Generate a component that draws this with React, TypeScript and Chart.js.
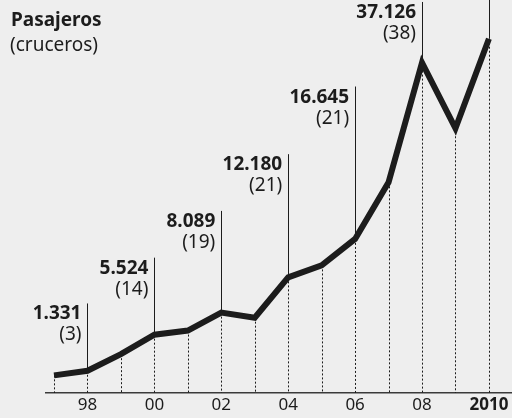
import React, { useEffect, useRef } from 'react';
import { Chart, registerables } from 'chart.js';

Chart.register(...registerables);

// ---- Data ----
const years = [1997, 1998, 1999, 2000, 2001, 2002, 2003, 2004, 2005, 2006, 2007, 2008, 2009, 2010];
const passengers = [800, 1331, 3260, 5524, 6000, 8089, 7500, 12180, 13570, 16645, 23220, 37126, 29500, 39900];

const tickYears = [1998, 2000, 2002, 2004, 2006, 2008, 2010];
const tickLabels = ['98', '00', '02', '04', '06', '08', '2010'];

const calloutYears = [1998, 2000, 2002, 2004, 2006, 2008, 2010];
const calloutValues = ['1.331', '5.524', '8.089', '12.180', '16.645', '37.126', ''];
const calloutShips = ['(3)', '(14)', '(19)', '(21)', '(21)', '(38)', ''];
// top of each leader line, in passenger units on the y scale
const calloutTops = [9150, 14470, 19900, 26490, 34350, 44170, 46000];

const titleText = 'Pasajeros';
const subtitleText = '(cruceros)';

const FONT = '"Noto Sans", "DejaVu Sans", sans-serif';
const INK = '#1c1c1c';

const calloutPlugin = {
  id: 'callouts',
  beforeDraw(chart: any) {
    const { ctx, width, height } = chart;
    ctx.save();
    ctx.fillStyle = '#eeeeee';
    ctx.fillRect(0, 0, width, height);
    ctx.restore();
  },
  beforeDatasetsDraw(chart: any) {
    const { ctx, chartArea, scales } = chart;
    const x = scales.x;
    const y = scales.y;
    ctx.save();
    // dashed drop lines
    ctx.strokeStyle = INK;
    ctx.lineWidth = 1;
    ctx.setLineDash([2, 2]);
    ctx.beginPath();
    years.forEach((yr, i) => {
      const px = Math.round(x.getPixelForValue(yr)) + 0.5;
      const py = y.getPixelForValue(passengers[i]);
      ctx.moveTo(px, py);
      ctx.lineTo(px, chartArea.bottom);
    });
    ctx.stroke();
    // solid leaders
    ctx.setLineDash([]);
    ctx.beginPath();
    calloutYears.forEach((yr, k) => {
      const i = years.indexOf(yr);
      const px = Math.round(x.getPixelForValue(yr)) + 0.5;
      const py = y.getPixelForValue(passengers[i]);
      const top = Math.max(y.getPixelForValue(calloutTops[k]), 0);
      ctx.moveTo(px, top);
      ctx.lineTo(px, py);
    });
    ctx.stroke();
    // callout texts
    ctx.fillStyle = INK;
    ctx.textAlign = 'right';
    ctx.textBaseline = 'alphabetic';
    calloutYears.forEach((yr, k) => {
      const px = x.getPixelForValue(yr);
      const top = y.getPixelForValue(calloutTops[k]);
      ctx.font = `bold 19px ${FONT}`;
      if (calloutValues[k]) ctx.fillText(calloutValues[k], px - 6, top + 16);
      ctx.font = `19px ${FONT}`;
      if (calloutShips[k]) ctx.fillText(calloutShips[k], px - 6, top + 37);
    });
    // title
    ctx.textAlign = 'left';
    ctx.font = `bold 19px ${FONT}`;
    ctx.fillText(titleText, 11, 26);
    ctx.font = `19px ${FONT}`;
    ctx.fillText(subtitleText, 10, 51);
    ctx.restore();
  },
};

export default function App() {
  const ref = useRef<HTMLCanvasElement | null>(null);

  useEffect(() => {
    if (!ref.current) return;
    const chart = new Chart(ref.current, {
      type: 'line',
      data: {
        datasets: [
          {
            data: years.map((yr, i) => ({ x: yr, y: passengers[i] })),
            borderColor: INK,
            borderWidth: 6,
            pointRadius: 0,
            tension: 0,
            borderJoinStyle: 'miter',
            borderCapStyle: 'butt',
            fill: false,
          },
        ],
      },
      options: {
        animation: false,
        responsive: false,
        maintainAspectRatio: false,
        layout: { padding: { left: 46, right: 0, top: 0, bottom: 0.6 } },
        plugins: {
          legend: { display: false },
          tooltip: { enabled: false },
          title: { display: false },
        },
        scales: {
          x: {
            type: 'linear',
            min: 1996.76,
            max: 2010.69,
            grid: { display: false, drawTicks: false },
            border: { display: true, color: '#3a3a3a', width: 1.5 },
            afterBuildTicks: (s: any) => {
              s.ticks = tickYears.map((v) => ({ value: v }));
            },
            ticks: {
              autoSkip: false,
              maxRotation: 0,
              padding: 2,
              color: INK,
              font: (c: any) => ({
                family: FONT,
                size: 17,
                weight: c.tick && c.tick.value === 2010 ? 'bold' : 'normal',
              }),
              callback: (v: any) => tickLabels[tickYears.indexOf(Number(v))],
            },
          },
          y: { display: false, min: -1250, max: 44400 },
        },
      },
      plugins: [calloutPlugin],
    } as any);
    return () => chart.destroy();
  }, []);

  return (
    <div style={{ position: 'absolute', left: 0, top: 0, width: 512, height: 418 }}>
      <canvas ref={ref} width={512} height={418} style={{ display: 'block', width: 512, height: 418 }} />
    </div>
  );
}
